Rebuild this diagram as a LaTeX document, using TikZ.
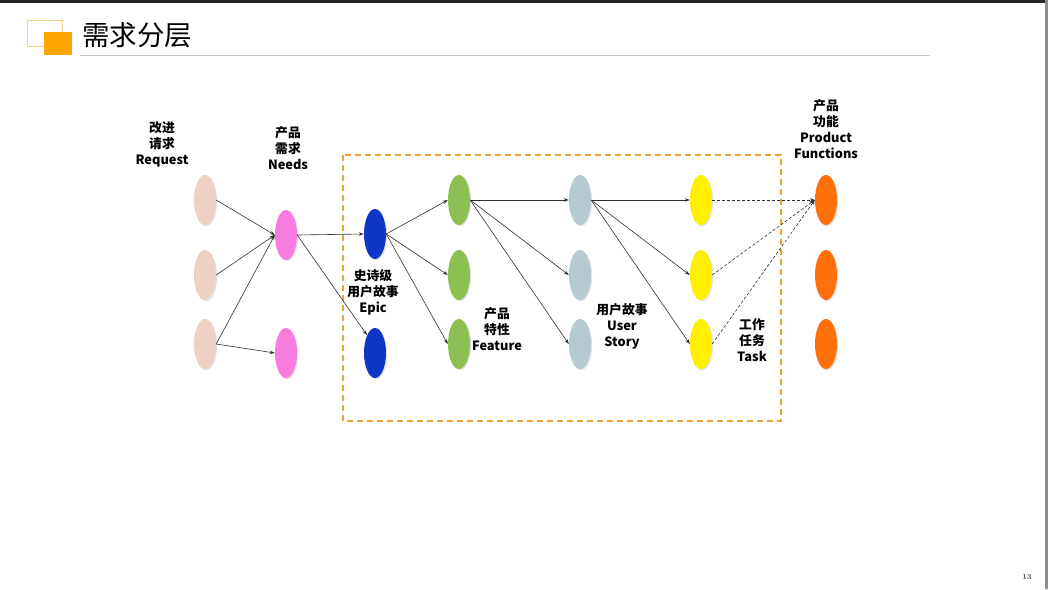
\documentclass[tikz,border=0pt]{standalone}
\usepackage{fontspec}
\newfontfamily\cjk{Noto Sans CJK SC}
\usetikzlibrary{arrows.meta,shapes.geometric,shadows}

\definecolor{reqc}{HTML}{EED1C5}
\definecolor{needc}{HTML}{FA7BDF}
\definecolor{epicc}{HTML}{0F37C6}
\definecolor{featc}{HTML}{8CC152}
\definecolor{storyc}{HTML}{B6C9D0}
\definecolor{taskc}{HTML}{FFF000}
\definecolor{funcc}{HTML}{FF700A}
\definecolor{framec}{HTML}{F0A030}
\definecolor{titlebox}{HTML}{FFA500}
\definecolor{titleedge}{HTML}{F3D68E}
\definecolor{rulec}{HTML}{C8C8C8}
\definecolor{linkc}{HTML}{303030}

\tikzset{
  item/.style={ellipse, draw=none, minimum width=22pt, minimum height=50pt, inner sep=0pt,
    drop shadow={shadow xshift=1.2pt, shadow yshift=-1.2pt, opacity=0.22}},
  req/.style={item, fill=reqc},
  need/.style={item, fill=needc},
  epicnode/.style={item, fill=epicc},
  feat/.style={item, fill=featc},
  story/.style={item, fill=storyc},
  task/.style={item, fill=taskc},
  func/.style={item, fill=funcc},
  lbl/.style={align=center, inner sep=0pt, font=\cjk\bfseries\fontsize{12.8}{16}\selectfont},
  link/.style={draw=linkc, line width=0.6pt, -{Stealth[length=5pt,width=3.5pt]}},
  dlink/.style={link, dashed, dash pattern=on 3pt off 2pt},
}

\begin{document}
\begin{tikzpicture}[x=1pt,y=-1pt]
\useasboundingbox (0,0) rectangle (1048,589);
\fill[white] (0,0) rectangle (1048,589);

% page frame
\fill[black!85] (0,0) rectangle (1048,2.5);
\fill[black!45] (1044.5,0) rectangle (1048,589);

% heading
\draw[titleedge, line width=1pt] (27,20) rectangle (62,46);
\fill[titlebox] (43.5,32) rectangle (72,55);
\node[anchor=west, inner sep=0pt, font=\cjk\fontsize{27.5}{30}\selectfont] (title) at (82,35) {需求分层};
\draw[rulec, line width=1.5pt] (80,55.5) -- (930,55.5);

% dashed frame around the delivery layers
\draw[framec, line width=1.2pt, dash pattern=on 6pt off 4pt] (343,155) rectangle (781,421);

% layers
\node[req] (r1) at (205,200) {};
\node[req] (r2) at (205,275) {};
\node[req] (r3) at (205,344) {};

\node[need] (n1) at (286,235) {};
\node[need] (n2) at (286,353) {};

\node[epicnode] (e1) at (375,234) {};
\node[epicnode] (e2) at (375,353) {};

\node[feat] (f1) at (459,200) {};
\node[feat] (f2) at (459,275) {};
\node[feat] (f3) at (459,344) {};

\node[story] (s1) at (580,200) {};
\node[story] (s2) at (580,275) {};
\node[story] (s3) at (580,344) {};

\node[task] (t1) at (701,200) {};
\node[task] (t2) at (701,275) {};
\node[task] (t3) at (701,344) {};

\node[func] (p1) at (826,200) {};
\node[func] (p2) at (826,275) {};
\node[func] (p3) at (826,344) {};

% labels
\node[lbl] (lreq) at (162,144) {改进\\请求\\Request};
\node[lbl] (lneed) at (288,148) {产品\\需求\\Needs};
\node[lbl] (lepic) at (373,292) {史诗级\\用户故事\\Epic};
\node[lbl] (lfeat) at (497,329) {产品\\特性\\Feature};
\node[lbl] (lstory) at (622,326) {用户故事\\User\\Story};
\node[lbl] (ltask) at (752,340) {工作\\任务\\Task};
\node[lbl] (lfunc) at (826,129) {产品\\功能\\Product\\Functions};

% connectors
\draw[link] (r1.east) -- (n1.west);
\draw[link] (r2.east) -- (n1.west);
\draw[link] (r3.east) -- (n1.west);
\draw[link] (r3.east) -- (n2.west);

\draw[link] (n1.east) -- (e1.west);
\draw[link] (n1.east) -- (e2.north west);

\draw[link] (e1.east) -- (f1.west);
\draw[link] (e1.east) -- (f2.west);
\draw[link] (e1.east) -- (f3.west);

\draw[link] (f1.east) -- (s1.west);
\draw[link] (f1.east) -- (s2.west);
\draw[link] (f1.east) -- (s3.west);

\draw[link] (s1.east) -- (t1.west);
\draw[link] (s1.east) -- (t2.west);
\draw[link] (s1.east) -- (t3.west);

\draw[dlink] (t1.east) -- (p1.west);
\draw[dlink] (t2.east) -- (p1.west);
\draw[dlink] (t3.east) -- (p1.west);

% page number
\node[text=black!70, font=\bfseries\fontsize{7.5}{8}\selectfont, inner sep=0pt] (pagenum) at (1027,577) {13};
\end{tikzpicture}
\end{document}
